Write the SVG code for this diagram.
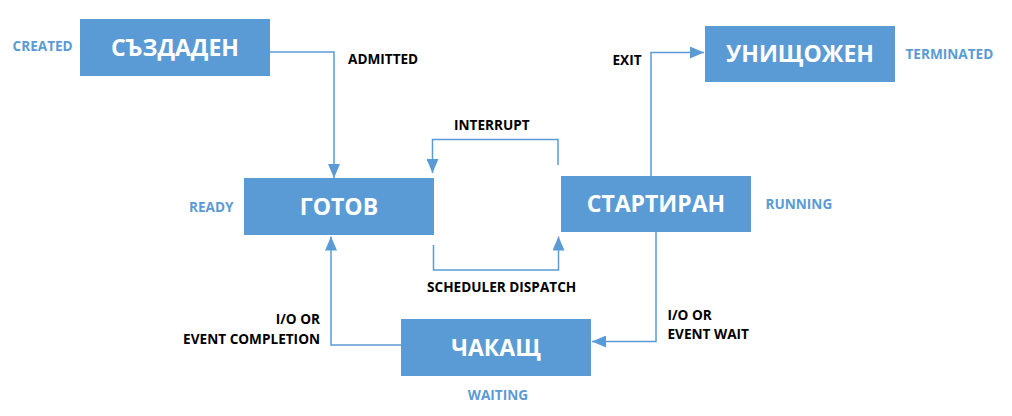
<svg xmlns="http://www.w3.org/2000/svg" width="1012" height="416" viewBox="0 0 1012 416">
<style>
.node{fill:#5B9BD5}
.nl{font-family:"Open Sans","Noto Sans",sans-serif;font-weight:bold;font-size:23px;fill:#fff;text-anchor:middle}
.st{font-family:"Open Sans","Noto Sans",sans-serif;font-weight:bold;font-size:13.6px;fill:#5B9BD5}
.lb{font-family:"Open Sans","Noto Sans",sans-serif;font-weight:bold;font-size:13.6px;fill:#000}
.c{fill:none;stroke:#5B9BD5;stroke-width:1.5;marker-end:url(#ah)}
</style>
<defs>
<marker id="ah" markerUnits="userSpaceOnUse" markerWidth="14" markerHeight="12" refX="14" refY="6" orient="auto">
<path d="M0,0 L14,6 L0,12 z" fill="#5B9BD5"/>
</marker>
</defs>
<rect width="1012" height="416" fill="#fff"/>
<g id="connectors">
<path class="c" d="M270,52 H334 V178"/>
<path class="c" d="M558,165 V139.5 H432.5 V173"/>
<path class="c" d="M433.5,245 V270 H558.5 V236.5"/>
<path class="c" d="M651,176 V52.5 H704"/>
<path class="c" d="M656,232 V341.5 H592"/>
<path class="c" d="M401,345 H331 V236.5"/>
<text class="lb" x="348" y="63.5">ADMITTED</text>
<text class="lb" x="454" y="129.5">INTERRUPT</text>
<text class="lb" x="427" y="291.5">SCHEDULER DISPATCH</text>
<text class="lb" x="612.5" y="64.5">EXIT</text>
<text class="lb" x="667.5" y="319.5">I/O OR</text>
<text class="lb" x="667.5" y="339">EVENT WAIT</text>
<text class="lb" x="320" y="324" text-anchor="end">I/O OR</text>
<text class="lb" x="320" y="343.5" text-anchor="end">EVENT COMPLETION</text>
</g>
<g id="created">
<rect class="node" x="80" y="19" width="190" height="57"/>
<text class="nl" x="175" y="55.5">СЪЗДАДЕН</text>
<text class="st" x="12.5" y="51">CREATED</text>
</g>
<g id="ready">
<rect class="node" x="244" y="178" width="190" height="57"/>
<text class="nl" x="339" y="214.5">ГОТОВ</text>
<text class="st" x="189" y="212">READY</text>
</g>
<g id="running">
<rect class="node" x="561" y="176" width="190" height="56"/>
<text class="nl" x="656" y="212">СТАРТИРАН</text>
<text class="st" x="765.5" y="208.5">RUNNING</text>
</g>
<g id="terminated">
<rect class="node" x="705" y="26" width="190" height="56"/>
<text class="nl" x="800" y="62">УНИЩОЖЕН</text>
<text class="st" x="905.5" y="58.5">TERMINATED</text>
</g>
<g id="waiting">
<rect class="node" x="401" y="319" width="190" height="57"/>
<text class="nl" x="496" y="355.5">ЧАКАЩ</text>
<text class="st" x="498" y="399.5" text-anchor="middle">WAITING</text>
</g>
</svg>
